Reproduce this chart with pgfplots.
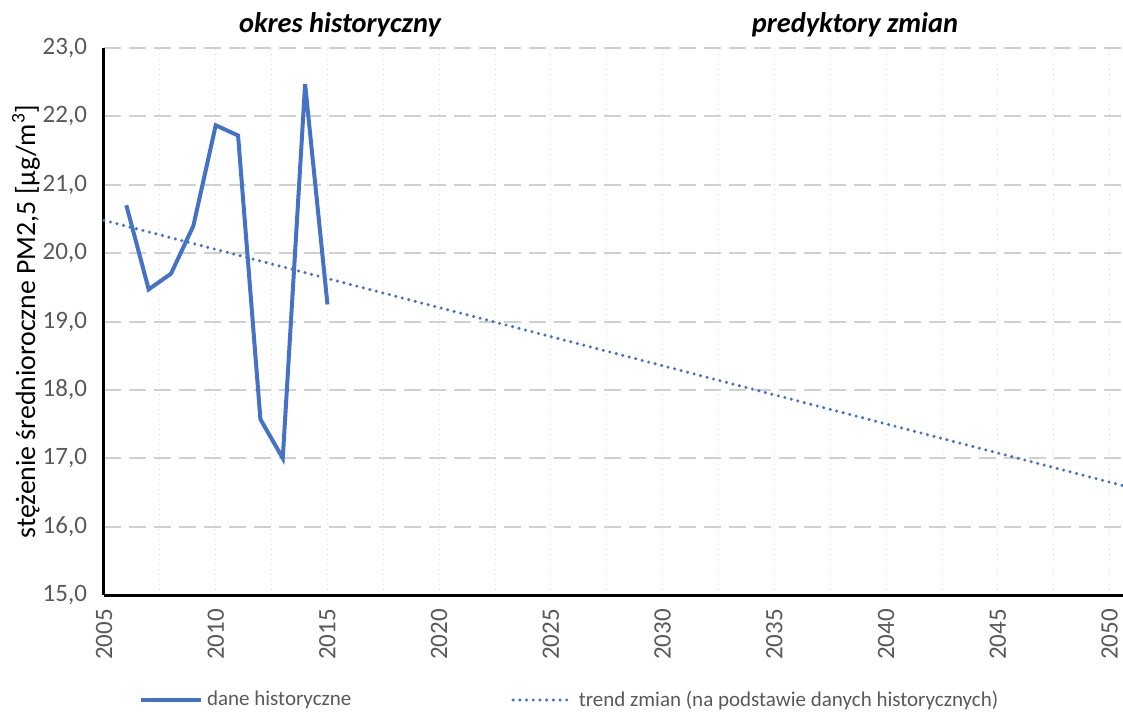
\documentclass[border=0pt]{standalone}
\usepackage{pgfplots}
\pgfplotsset{compat=1.18}
\usepackage{fontspec}
\setmainfont{Carlito}
\definecolor{seriesblue}{HTML}{4472C4}
\definecolor{txtgray}{HTML}{595959}
\definecolor{gridgray}{HTML}{D0D0D0}

\begin{document}
\begin{tikzpicture}
\begin{axis}[
  scale only axis,
  width=509.5pt, height=273.5pt,
  xmin=2005, xmax=2050.6,
  ymin=15, ymax=23,
  xtick={2005,2010,...,2050},
  minor x tick num=1,
  ytick={15,16,...,23},
  axis x line*=bottom, axis y line*=left,
  axis line style={black, line width=1.5pt},
  major tick length=0pt, minor tick length=0pt,
  ymajorgrids, xminorgrids, xmajorgrids,
  y grid style={gridgray, line width=1pt, dash pattern=on 8.5pt off 4pt},
  x grid style={gridgray!70, line width=0.5pt, dotted},
  minor x grid style={gridgray!70, line width=0.5pt, dotted},
  /pgf/number format/assume math mode=true,
  xticklabel style={yshift=-3.5pt, rotate=90, anchor=east, font=\fontsize{12.5}{14}\selectfont, text=txtgray,
    /pgf/number format/1000 sep={}},
  yticklabel style={font=\fontsize{12.5}{15}\selectfont, text=txtgray, xshift=-5pt,
    /pgf/number format/.cd, use comma, fixed, fixed zerofill, precision=1},
  ylabel={stężenie średnioroczne PM2,5 [µg/m\textsuperscript{3}]},
  every axis y label/.style={at={([xshift=-39pt]axis description cs:0,0.5)},
    rotate=90, anchor=center, font=\fontsize{13.9}{16}\selectfont, text=black},
  clip=false,
  legend columns=2,
  legend style={at={(0.458,-0.192)}, anchor=center, draw=none, fill=none,
    font=\fontsize{10.5}{12}\selectfont, text=txtgray,
    /tikz/every even column/.append style={column sep=78pt}},
  legend cell align=left,
  legend image code/.code={\draw[#1] (0pt,0pt) -- (30pt,0pt);},
]
\addplot[seriesblue, line width=2pt, line join=miter]
  coordinates {
  (2006,20.70) (2007,19.47) (2008,19.70) (2009,20.40) (2010,21.87)
  (2011,21.72) (2012,17.57) (2013,17.00) (2014,22.47) (2015,19.25)
  };
\addlegendentry{dane historyczne}
\addplot[seriesblue, line width=1.7pt, line cap=round, dash pattern=on 0pt off 3.35pt]
  coordinates {(2005,20.48) (2050.6,16.60)};
\addlegendentry{trend zmian (na podstawie danych historycznych)}
\node[font=\bfseries\itshape\fontsize{14.2}{16}\selectfont] at (axis description cs:0.2316,1) [yshift=11.5pt] {okres historyczny};
\node[font=\bfseries\itshape\fontsize{14.2}{16}\selectfont] at (axis description cs:0.737,1) [yshift=11.5pt] {predyktory zmian};
\end{axis}
\pgfresetboundingbox
\path (-52pt,-59pt) rectangle (509.5pt,297.5pt);
\end{tikzpicture}
\end{document}
